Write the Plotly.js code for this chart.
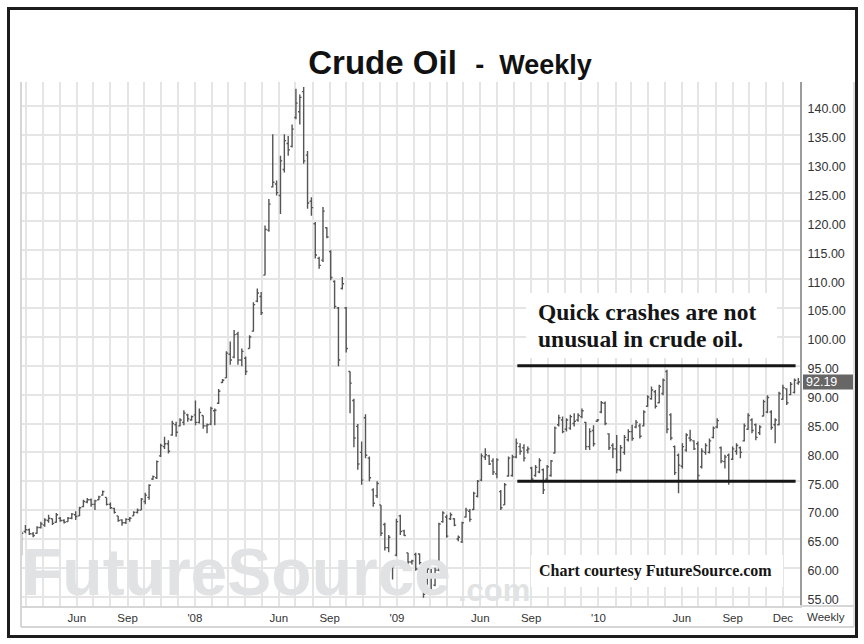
<!DOCTYPE html>
<html><head><meta charset="utf-8">
<script src="https://cdn.plot.ly/plotly-3.0.1.min.js"></script>
<style>html,body{margin:0;padding:0;background:#fff}#chart{width:864px;height:644px}</style>
</head><body><div id="chart"></div>
<script>
// ---- data (weekly bars) ----
const firstWeek = '2007-02-21';
const open = [62.5,66.3,66.6,65.9,66.0,67.0,67.4,68.2,68.5,67.9,68.6,68.2,68.0,68.6,69.2,69.0,70.6,71.4,71.8,71.0,
71.8,72.6,72.2,71.0,70.3,69.0,68.3,67.8,68.4,69.0,69.6,70.0,71.5,72.2,75.4,75.6,79.4,81.0,81.5,83.0,
84.8,84.6,85.2,86.5,85.6,86.5,85.2,86.4,84.6,84.9,87.2,88.5,92.1,92.9,97.0,96.5,100.5,96.0,96.3,98.0,
101.0,106.2,107.0,110.7,118.5,126.0,126.5,124.5,129.0,133.5,133.0,138.0,139.0,142.5,131.5,123.5,119.6,113.6,113.3,118.9,
114.8,109.6,105.0,108.4,105.0,94.0,89.0,84.5,80.0,86.0,79.0,73.5,72.5,70.9,67.5,63.5,60.6,62.2,69.0,66.4,
62.6,61.0,62.3,62.4,58.0,57.2,55.6,57.0,59.6,68.0,68.8,68.5,68.5,65.0,64.5,68.8,69.8,70.1,72.4,75.2,
79.2,79.4,78.5,76.3,73.2,70.9,75.9,76.0,79.2,81.0,80.8,80.4,77.3,76.0,76.6,77.0,75.4,76.0,79.9,84.8,
85.6,84.0,84.2,85.0,85.6,86.2,85.2,81.0,83.8,85.4,87.0,88.5,83.2,81.2,80.6,77.0,80.0,82.2,83.6,84.4,
84.6,84.6,88.0,89.3,90.5,88.6,90.2,94.0,86.5,81.0,79.5,77.6,80.4,82.5,82.0,81.5,77.5,80.0,80.0,82.6,
84.4,80.8,78.4,79.5,78.8,80.2,80.8,82.0,84.0,85.6,84.8,83.4,86.3,87.0,87.0,84.8,84.8,89.2,91.0,90.0,
90.4,92.0];
const high = [66.3,67.4,66.8,66.2,67.2,68.0,68.6,69.2,68.5,69.5,68.8,68.4,68.8,69.5,69.8,70.6,71.8,72.1,72.0,71.8,
72.5,73.4,72.2,71.3,70.4,69.0,68.4,68.6,68.8,69.8,70.3,72.1,73.0,74.5,76.0,78.6,81.5,82.7,82.1,85.5,
85.3,85.9,87.3,86.7,86.4,89.0,87.6,86.4,85.0,87.9,87.6,91.0,92.7,97.5,99.2,101.2,100.9,98.0,96.6,100.3,
106.0,108.4,107.8,119.3,123.9,135.1,127.1,131.4,135.1,134.8,136.8,143.0,142.0,143.3,132.2,124.2,119.9,113.9,122.5,119.0,
115.0,109.8,105.2,110.4,105.2,94.0,89.3,84.9,81.9,86.6,79.3,73.8,75.0,70.9,67.8,65.7,60.6,68.5,69.2,66.6,
62.6,61.4,62.6,62.5,58.1,60.3,59.8,60.0,67.8,69.8,69.2,69.6,68.6,65.6,68.0,70.4,70.2,73.2,75.2,79.8,
80.7,79.6,79.0,79.0,73.5,74.7,79.3,79.6,82.4,81.6,81.4,81.0,77.5,77.8,79.0,77.2,77.8,78.7,84.5,86.5,
86.2,85.9,86.5,86.8,86.8,87.6,85.3,84.2,84.7,85.8,88.9,88.8,83.3,81.6,83.0,81.3,83.0,84.0,84.8,85.6,
85.0,87.3,89.9,91.4,90.8,91.7,92.8,94.3,86.8,81.2,79.8,81.6,83.3,83.9,82.1,81.9,80.7,81.6,82.4,84.5,
85.9,81.0,79.6,79.8,81.0,81.6,81.0,85.0,86.8,85.9,85.0,84.7,89.1,89.9,87.3,85.9,90.5,91.7,91.1,92.2,
92.8,92.9];
const low = [62.2,66.0,65.7,65.3,65.9,66.8,67.1,67.8,67.4,67.8,68.0,67.7,68.0,68.4,68.3,69.0,70.5,71.2,70.6,70.0,
71.7,72.5,70.8,70.2,69.4,68.0,67.3,67.6,68.0,69.0,69.4,70.0,71.0,71.8,75.2,75.4,79.2,80.6,79.8,82.9,
82.7,84.5,84.7,85.3,85.5,84.7,85.0,84.1,83.3,84.7,84.7,88.4,92.0,92.9,95.2,96.3,95.2,94.9,93.4,98.0,
100.9,106.0,103.8,110.7,118.2,125.9,124.5,121.3,128.5,131.4,132.8,137.7,136.8,130.0,122.2,121.0,113.6,111.8,113.0,117.1,
109.8,104.9,94.9,108.2,97.3,86.8,80.9,77.0,74.4,79.0,75.0,70.6,72.1,65.5,63.0,62.7,58.0,62.0,65.7,65.5,
60.6,60.6,59.5,60.6,54.8,57.0,55.4,56.8,59.4,67.8,65.2,68.3,67.2,64.6,64.3,68.7,68.0,70.0,72.2,75.0,
78.7,77.8,76.1,75.5,70.0,70.9,75.8,75.8,79.0,79.6,78.4,79.8,74.9,75.8,76.4,72.8,75.2,75.8,79.8,84.5,
83.3,83.6,83.9,84.5,85.3,85.9,80.4,80.4,81.0,85.3,86.8,84.7,80.4,79.0,76.4,76.7,79.6,81.9,82.0,84.2,
82.4,84.5,87.9,89.1,87.6,88.5,89.9,83.3,82.1,76.1,72.9,77.2,80.1,81.9,80.4,75.2,77.2,79.6,79.8,82.4,
84.2,78.1,77.2,74.4,78.7,79.6,79.0,81.9,83.9,83.3,82.1,83.0,86.2,86.8,83.9,81.6,84.7,89.1,88.2,89.9,
90.2,91.7];
const close = [66.0,66.6,65.9,65.6,67.0,67.6,68.3,68.6,67.7,69.2,68.2,67.9,68.6,69.3,68.9,70.4,71.5,71.8,71.0,71.6,
72.3,73.2,71.0,70.4,69.6,68.2,67.8,68.4,68.6,69.6,70.0,71.9,72.6,74.3,75.8,78.4,81.2,81.5,80.2,85.0,
83.5,85.6,86.8,85.8,86.2,85.2,86.9,84.6,84.8,87.6,87.3,90.6,92.5,97.2,96.0,100.4,96.0,97.5,94.0,100.0,
105.6,107.6,104.2,118.6,123.0,126.8,125.0,130.5,134.0,132.4,136.0,140.5,141.5,130.5,123.2,122.4,114.2,112.4,121.8,117.3,
110.3,105.3,96.0,109.2,98.0,92.0,82.5,78.0,75.2,79.5,75.6,71.2,74.6,66.0,63.5,65.3,60.3,68.0,66.3,65.6,
61.0,61.2,59.8,60.9,55.4,59.8,58.6,59.6,67.6,69.5,65.5,69.2,67.4,65.3,67.8,70.0,68.4,72.9,75.0,79.4,
79.6,78.0,76.6,78.7,70.4,74.4,79.0,79.2,81.6,80.2,79.0,80.6,75.4,77.4,78.6,73.5,77.5,78.5,84.2,86.0,
83.6,85.6,86.2,85.4,86.4,87.2,81.0,83.6,81.5,85.6,88.6,85.0,80.8,80.6,77.0,80.8,82.6,83.6,82.4,85.2,
82.8,87.0,89.6,90.8,88.0,91.4,92.5,84.0,82.5,76.5,77.8,81.0,83.0,82.2,80.6,76.0,80.2,81.2,82.0,84.2,
85.5,78.5,79.2,75.0,80.6,81.2,80.0,84.6,86.4,83.8,82.6,84.4,88.8,89.5,84.3,85.6,90.2,91.2,88.6,91.8,
92.5,92.19];
const monthLabels = {'2007-06':'Jun','2007-09':'Sep','2008-01':"'08",'2008-06':'Jun','2008-09':'Sep',
  '2009-01':"'09",'2009-06':'Jun','2009-09':'Sep','2010-01':"'10",'2010-06':'Jun','2010-09':'Sep','2010-12':'Dec'};
const lastPrice = 92.19;
const rangeLines = [95, 75];
const rangeFrom = '2009-08-07', rangeTo = '2010-12-24';
const noteLines = ['Quick crashes are not', 'unusual in crude oil.'];
const creditText = 'Chart courtesy FutureSource.com';
const watermark = ['FutureSource', '.com'];

// ---- helpers ----
function addDays(iso, n){ const d = new Date(iso + 'T00:00:00Z'); d.setUTCDate(d.getUTCDate() + n); return d.toISOString().slice(0,10); }
const weeks = open.map((_, i) => addDays(firstWeek, 7 * i));
const tickVals = [], tickText = [];
for (let y = 2007, m = 3; ; m++) {
  if (m > 12) { m = 1; y++; }
  const key = y + '-' + String(m).padStart(2, '0');
  tickVals.push(key + '-01'); tickText.push(monthLabels[key] || '');
  if (y === 2010 && m === 12) break;
}

const plotL = 21, plotR = 800, plotT = 82, plotB = 606;
const xRange = ['2007-02-20', '2011-01-01'];
const yRange = [53.39, 144.16];
const px = x => (x - plotL) / (plotR - plotL);
const py = y => (plotB - y) / (plotB - plotT);
const t0 = Date.UTC(2007,1,20), t1 = Date.UTC(2011,0,1);
const pxDate = x => new Date(t0 + (x - plotL) / (plotR - plotL) * (t1 - t0)).toISOString();
const pyVal = y => yRange[1] - (y - plotT) / (plotB - plotT) * (yRange[1] - yRange[0]);

const sans = 'Liberation Sans, Arial, sans-serif';
const serif = 'Liberation Serif, Times New Roman, serif';
const barColor = '#555555';

const traces = [
  {type:'scatter', mode:'text', x:[pxDate(22), pxDate(458)], y:[pyVal(578), pyVal(593)],
   text: watermark, textposition:'middle right', cliponaxis:false, hoverinfo:'skip', showlegend:false,
   textfont:{family:sans, size:[66,31], color:'#e1e2e4', weight:700}},
  {type:'ohlc', x: weeks, open, high, low, close, tickwidth:0.45, hoverinfo:'skip', showlegend:false,
   increasing:{line:{color:barColor, width:1.4}}, decreasing:{line:{color:barColor, width:1.4}}}
];

const shapes = [
  {type:'rect', xref:'paper', yref:'paper', x0:px(8.5), x1:px(856.5), y0:py(636.5), y1:py(8.5), line:{color:'#1c1c1c', width:3}},
  {type:'line', xref:'paper', yref:'paper', x0:px(21), x1:px(21), y0:py(627), y1:1, line:{color:'#d6d6d6', width:2}},
  {type:'line', xref:'paper', yref:'paper', x0:px(854), x1:px(854), y0:py(627), y1:1, line:{color:'#d6d6d6', width:1.5}},
  {type:'line', xref:'paper', yref:'paper', x0:px(21), x1:px(854), y0:py(627), y1:py(627), line:{color:'#d6d6d6', width:2}},
  {type:'line', xref:'paper', yref:'paper', x0:px(800), x1:px(854), y0:0, y1:0, line:{color:'#d6d6d6', width:2}},
  {type:'rect', xref:'paper', yref:'paper', x0:px(526), x1:px(777), y0:py(358), y1:py(293), fillcolor:'#fff', line:{width:0}},
  {type:'rect', xref:'paper', yref:'paper', x0:px(531), x1:px(783), y0:py(587), y1:py(555), fillcolor:'#fff', line:{width:0}},
  ...rangeLines.map(v => ({type:'line', xref:'x', yref:'y', x0:rangeFrom, x1:rangeTo, y0:v, y1:v, line:{color:'#161616', width:3}})),
  {type:'rect', xref:'paper', yref:'y', x0:px(803), x1:px(853), y0:lastPrice - 1.3, y1:lastPrice + 1.3, fillcolor:'#666', line:{width:0}}
];

const annotations = [
  {xref:'paper', yref:'paper', x:px(536), y:py(312), xanchor:'left', yanchor:'middle', showarrow:false,
   text:'<b>' + noteLines[0] + '</b>', font:{family:serif, size:23.5, color:'#151515'}},
  {xref:'paper', yref:'paper', x:px(536), y:py(339), xanchor:'left', yanchor:'middle', showarrow:false,
   text:'<b>' + noteLines[1] + '</b>', font:{family:serif, size:23.5, color:'#151515'}},
  {xref:'paper', yref:'paper', x:px(655), y:py(571), xanchor:'center', yanchor:'middle', showarrow:false,
   text:'<b>' + creditText + '</b>', font:{family:serif, size:16, color:'#151515'}},
  {xref:'paper', yref:'y', x:px(804), y:lastPrice, xanchor:'left', yanchor:'middle', showarrow:false,
   text:lastPrice.toFixed(2), font:{family:sans, size:12.5, color:'#fff'}},
  {xref:'paper', yref:'paper', x:px(826), y:py(617), xanchor:'center', yanchor:'middle', showarrow:false,
   text:'Weekly', font:{family:sans, size:11.5, color:'#333'}}
];

const layout = {
  width:864, height:644,
  margin:{l:plotL, r:864 - plotR, t:plotT, b:644 - plotB, pad:0},
  paper_bgcolor:'#fff', plot_bgcolor:'#fff',
  font:{family:sans, color:'#333'},
  showlegend:false, hovermode:false, dragmode:false,
  title:{text:'<b>Crude Oil\u00a0\u00a0<span style="font-size:27px">-\u00a0\u00a0Weekly</span></b>',
         x:450/864, xanchor:'center', y:1 - 62/644, yanchor:'middle', font:{family:sans, size:33, color:'#111'}},
  xaxis:{type:'date', range:xRange, rangeslider:{visible:false}, tickmode:'array', tickvals:tickVals, ticktext:tickText,
         showgrid:true, gridcolor:'#e5e5e5', gridwidth:2, ticks:'', showline:true, linecolor:'#d6d6d6', linewidth:2,
         zeroline:false, tickfont:{family:sans, size:11.5, color:'#333'}, fixedrange:true},
  yaxis:{side:'right', range:yRange, tick0:55, dtick:5, tickformat:'.2f', showgrid:true, gridcolor:'#e5e5e5', gridwidth:2,
         ticks:'', ticklabelstandoff:3, ticklabelshift:3, showline:true, linecolor:'#9c9c9c', linewidth:2, zeroline:false,
         tickfont:{family:sans, size:12.5, color:'#333'}, fixedrange:true},
  shapes, annotations
};
Plotly.newPlot('chart', traces, layout, {staticPlot:true, displayModeBar:false});
</script></body></html>
